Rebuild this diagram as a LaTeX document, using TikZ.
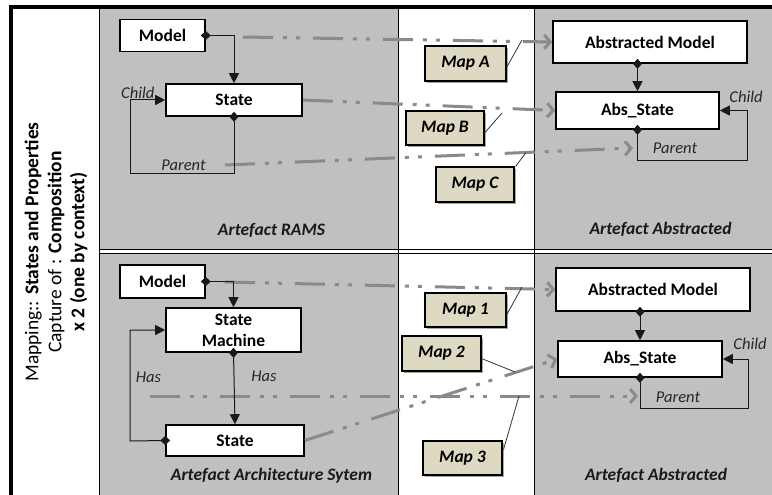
\documentclass[tikz,border=0pt]{standalone}
\usepackage{fontspec}
\setmainfont{Carlito}
\usetikzlibrary{arrows.meta,shadows}
\definecolor{panelgray}{HTML}{C0C0C0}
\definecolor{mapfill}{HTML}{DDD9C3}
\definecolor{mapline}{HTML}{8A8A8A}
\tikzset{
  box/.style={draw=black, line width=1.6pt, fill=white, inner sep=0pt, align=center,
    font=\bfseries\fontsize{17.5}{19}\selectfont},
  mapbox/.style={draw=black, line width=1.1pt, fill=mapfill, inner sep=0pt,
    minimum width=80pt, minimum height=35pt,
    font=\bfseries\itshape\fontsize{17.5}{19}\selectfont,
    drop shadow={shadow xshift=2pt, shadow yshift=-2pt, opacity=0.35, fill=black}},
  lbl/.style={inner sep=0pt, font=\itshape\fontsize{16.5}{18}\selectfont, text=black!85},
  paneltitle/.style={inner sep=0pt, font=\bfseries\itshape\fontsize{17.5}{19}\selectfont, text=black!90},
  conn/.style={draw=black!90, line width=1pt, {Diamond[length=10pt,width=9pt]}-{Triangle[length=10pt,width=10pt]}, shorten <=-5pt},
  mapping/.style={draw=mapline, line width=3pt,
    dash pattern=on 30pt off 10pt on 4pt off 9pt on 4pt off 13pt,
    -{Straight Barb[length=6pt,width=14pt]}},
  callout/.style={draw=black!80, line width=0.8pt},
  sep/.style={draw=black, line width=1pt},
}
\begin{document}
\begin{tikzpicture}[x=1pt,y=-1pt]
\useasboundingbox (0,0) rectangle (772,495);
\clip (0,0) rectangle (772,495);
% background and panels
\fill[white] (0,0) rectangle (772,495);
\fill[panelgray] (99,9) rectangle (398,249);
\fill[panelgray] (534,9) rectangle (780,249);
\fill[panelgray] (99,253) rectangle (398,500);
\fill[panelgray] (534,253) rectangle (780,500);
\draw[sep] (99,9) -- (99,500);
\draw[sep] (398,9) -- (398,500);
\draw[sep] (534,9) -- (534,500);
\draw[sep] (99,249) -- (780,249);
\draw[sep] (99,253) -- (780,253);
\draw[black, line width=4pt] (11,7) rectangle (800,520);

% side text
\node[rotate=90, align=center, inner sep=0pt, font=\fontsize{19.5}{23}\selectfont] (side) at (56,252)
  {Mapping:: \textbf{States and Properties}\\Capture of : \textbf{Composition}\\\textbf{x 2 (one by context)}};

% coordinates
\coordinate (cA) at (243,37);
\coordinate (cB) at (225,165);
\coordinate (cBe) at (633,148);
\coordinate (c1) at (225,282);
\coordinate (c3) at (150,396);
\coordinate (c3e) at (638,396);
\coordinate (lp1) at (130,173);
\coordinate (lp2) at (747,160);
\coordinate (lp3) at (130,441);
\coordinate (lp4) at (748,408);
\coordinate (kA) at (522,40);
\coordinate (kB) at (502,113);
\coordinate (kC) at (526,152.5);
\coordinate (k1) at (522,287);
\coordinate (k2) at (515,372);
\coordinate (k3) at (519,396);

% top row boxes
\node[box, minimum width=85pt, minimum height=32pt] (m1) at (162.5,35.5) {Model};
\node[box, minimum width=136pt, minimum height=32pt] (s1) at (234,100) {State};
\node[box, minimum width=194pt, minimum height=42pt] (am1) at (650,42) {Abstracted Model};
\node[box, minimum width=163pt, minimum height=37pt] (as1) at (637.5,110.5) {Abs\_State};

% bottom row boxes
\node[box, minimum width=85pt, minimum height=33pt] (m2) at (162.5,281.5) {Model};
\node[box, minimum width=135pt, minimum height=44pt, font=\bfseries\fontsize{17.5}{21}\selectfont] (sm2) at (233.5,330) {State\\Machine};
\node[box, minimum width=138pt, minimum height=31pt] (s2) at (235,440.5) {State};
\node[box, minimum width=194pt, minimum height=43pt] (am2) at (653,289.5) {Abstracted Model};
\node[box, minimum width=164pt, minimum height=36pt] (as2) at (640,359) {Abs\_State};

% mapping lines
\draw[mapping] (cA) -- (am1.west);
\draw[mapping] (s1.east) -- (as1.west);
\draw[mapping] (cB) -- (cBe);
\draw[mapping] (c1) -- (am2.west);
\draw[mapping] (s2.east) -- (as2.west);
\draw[mapping] (c3) -- (c3e);

% structural connectors
\draw[conn] (m1.east) -| (s1.north);
\draw[conn] (s1.south) |- (lp1) |- (s1.west);
\draw[conn] (am1.south -| as1.north) -- (as1.north);
\draw[conn] (as1.south) |- (lp2) |- (as1.east);
\draw[conn] (m2.east) -| (sm2.north);
\draw[conn] (sm2.south) -- (s2.north);
\draw[conn] (s2.west) -- (lp3) |- (sm2.west);
\draw[conn] (am2.south -| as2.north) -- (as2.north);
\draw[conn] (as2.south) |- (lp4) |- (as2.east);

% map boxes
\node[mapbox, minimum width=81pt] (ma) at (465.5,63.5) {Map A};
\node[mapbox, minimum width=78pt, minimum height=34pt] (mb) at (445,128) {Map B};
\node[mapbox, minimum width=78pt] (mc) at (475,184.5) {Map C};
\node[mapbox, minimum width=81pt, minimum height=34pt] (mp1) at (465.5,310) {Map 1};
\node[mapbox, minimum width=79pt] (mp2) at (441.5,353.5) {Map 2};
\node[mapbox, minimum width=79pt, minimum height=34pt] (mp3) at (462.5,458) {Map 3};

% callouts
\draw[callout] ([yshift=-4pt]ma.east) -- (kA);
\draw[callout] ([yshift=-5pt]mb.east) -- (kB);
\draw[callout] ([xshift=1pt]mc.north east) -- (kC);
\draw[callout] ([yshift=-5pt]mp1.east) -- (k1);
\draw[callout] ([yshift=-5pt]mp2.east) -- (k2);
\draw[callout] ([yshift=-9pt,xshift=1pt]mp3.north east) -- (k3);

% labels
\node[lbl, anchor=west] (ch1) at (121,93) {Child};
\node[lbl] (pa1) at (183.5,165) {Parent};
\node[lbl] (ch2) at (746,97) {Child};
\node[lbl] (pa2) at (675,148) {Parent};
\node[lbl] (ha1) at (148.5,377) {Has};
\node[lbl] (ha2) at (264,376) {Has};
\node[lbl] (ch3) at (750,344) {Child};
\node[lbl] (pa3) at (678,397) {Parent};

% panel titles
\node[paneltitle] (t1) at (271.5,230) {Artefact RAMS};
\node[paneltitle] (t2) at (660.5,229) {Artefact Abstracted};
\node[paneltitle] (t3) at (271.5,476) {Artefact Architecture Sytem};
\node[paneltitle] (t4) at (656,475) {Artefact Abstracted};
\end{tikzpicture}
\end{document}
